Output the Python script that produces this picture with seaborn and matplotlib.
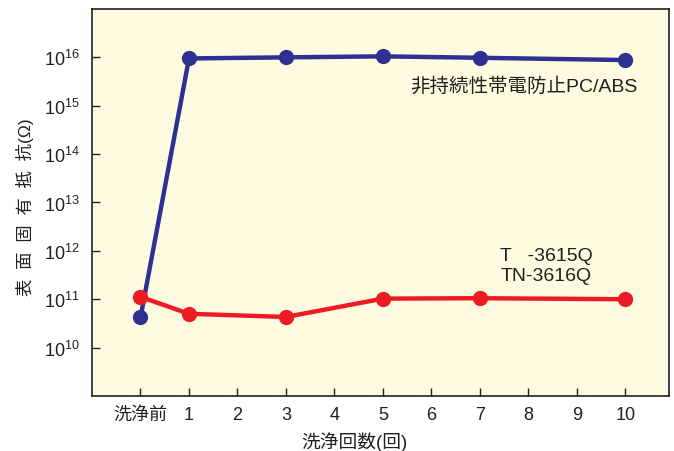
import numpy as np
import pandas as pd
import seaborn as sns
import matplotlib.pyplot as plt
from matplotlib.ticker import FixedLocator, FuncFormatter, NullLocator

# data
x_labels = ['洗浄前', '1', '2', '3', '4', '5', '6', '7', '8', '9', '10']
x_pos = [0, 1, 3, 5, 7, 10]
blue_vals = [4.2e10, 9.5e15, 1.0e16, 1.05e16, 9.8e15, 8.8e15]
red_vals = [1.12e11, 5.0e10, 4.3e10, 1.03e11, 1.05e11, 1.0e11]
y_ticks = [1e10, 1e11, 1e12, 1e13, 1e14, 1e15, 1e16]

blue = '#2e3192'
red = '#ed1c24'
bg = '#fffbe0'
ink = '#231f20'

sns.set_style('ticks')
plt.rcParams['font.family'] = ['Liberation Sans', 'Noto Sans CJK JP']
plt.rcParams['mathtext.fontset'] = 'custom'
plt.rcParams['mathtext.rm'] = 'Liberation Sans'
plt.rcParams['mathtext.it'] = 'Liberation Sans'

df = pd.DataFrame({
    'pos': x_pos * 2,
    'val': blue_vals + red_vals,
    'series': ['PC/ABS'] * len(x_pos) + ['TN'] * len(x_pos),
})

fig = plt.figure(figsize=(6.74, 4.52), dpi=100)
ax = fig.add_axes([0.1365, 0.1217, 0.8561, 0.8562])
ax.set_facecolor(bg)

sns.lineplot(data=df, x='pos', y='val', hue='series', palette=[blue, red],
             marker='o', markersize=11, markeredgewidth=0, linewidth=3.2,
             legend=False, ax=ax, zorder=3)

ax.set_yscale('log')
ax.set_ylim(1e9, 1e17)
ax.set_xlim(-1, 10.9)
ax.yaxis.set_major_locator(FixedLocator(y_ticks))
ax.yaxis.set_minor_locator(NullLocator())
ax.yaxis.set_major_formatter(FuncFormatter(lambda v, p: r'$10^{%d}$' % round(np.log10(v))))
ax.set_xticks(range(len(x_labels)))
ax.set_xticklabels(x_labels)
ax.tick_params(direction='in', length=6, width=1, labelsize=13, color=ink, labelcolor=ink)
ax.tick_params(axis='y', pad=9)
ax.tick_params(axis='x', pad=7)
for s in ax.spines.values():
    s.set_linewidth(1.2)
    s.set_color(ink)

ax.set_xlabel('洗浄回数(回)', fontsize=13.5, color=ink)
ax.xaxis.set_label_coords(0.454, -0.09)
ax.set_ylabel('表  面  固  有  抵  抗(Ω)', fontsize=12.5, color=ink)
ax.yaxis.set_label_coords(-0.10, 0.49)

ax.text(10.25, 2.6e15, '非持続性帯電防止PC/ABS', fontsize=14, ha='right', va='center', color=ink)
ax.text(7.42, 8.0e11, 'T   -3615Q', fontsize=14, ha='left', va='center', color=ink)
ax.text(7.42, 3.1e11, 'TN-3616Q', fontsize=14, ha='left', va='center', color=ink)

fig.savefig('out.png', dpi=100, facecolor='white')
